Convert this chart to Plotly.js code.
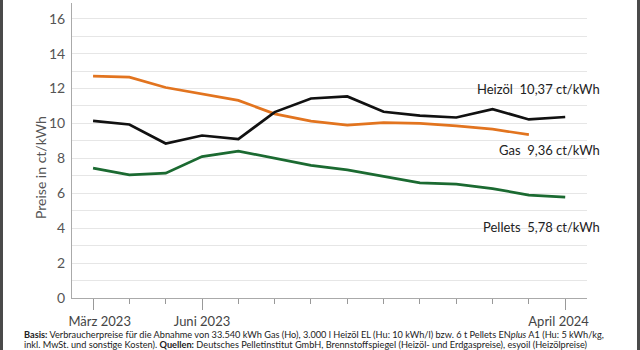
<!DOCTYPE html>
<html><head><meta charset="utf-8">
<script src="https://cdn.plot.ly/plotly-3.0.1.min.js"></script>
<style>
html,body{margin:0;padding:0;background:#fff;}
#wrap{position:relative;width:640px;height:350px;overflow:hidden;}
#chart{width:640px;height:350px;}
.bl{position:absolute;top:0;width:3px;height:350px;background:#4a4a4a;}
</style></head>
<body><div id="wrap"><div id="chart"></div><div class="bl" style="left:0"></div><div class="bl" style="left:637px"></div></div>
<script>
const months = ['2023-03','2023-04','2023-05','2023-06','2023-07','2023-08','2023-09','2023-10','2023-11','2023-12','2024-01','2024-02','2024-03','2024-04'];
const tickIdx = [0, 3, 13];
const tickLabels = ['\u00a0\u00a0\u00a0\u00a0März 2023', 'Juni 2023', 'April 2024\u00a0\u00a0\u00a0\u00a0'];
const heizoel = [10.15, 9.94, 8.85, 9.31, 9.1, 10.65, 11.43, 11.55, 10.67, 10.45, 10.34, 10.82, 10.23, 10.37];
const gas = [12.71, 12.65, 12.06, 11.68, 11.32, 10.55, 10.13, 9.9, 10.05, 10.0, 9.86, 9.67, 9.36];
const pellets = [7.44, 7.05, 7.15, 8.1, 8.41, 8.02, 7.6, 7.34, 6.98, 6.6, 6.52, 6.27, 5.89, 5.78];
const labelHeizoel = 'Heizöl\u00a0 10,37 ct/kWh';
const labelGas = 'Gas\u00a0 9,36 ct/kWh';
const labelPellets = 'Pellets\u00a0 5,78 ct/kWh';
const note1Parts = [['Basis:', true], [' Verbraucherpreise für die Abnahme von 33.540 kWh Gas (Ho), 3.000 l Heizöl EL (Hu: 10 kWh/l) bzw. 6 t Pellets ENplus A1 (Hu: 5 kWh/kg,', false]];
const note2Parts = [['inkl. MwSt. und sonstige Kosten). ', false], ['Quellen:', true], [' Deutsches Pelletinstitut GmbH, Brennstoffspiegel (Heizöl- und Erdgaspreise), esyoil (Heizölpreise)', false]];

const idx = a => a.map((_, i) => i);
const FONT = 'Lato, Roboto, sans-serif';
const NOTEFONT = 'Lato';

// pick a footnote size so the first line spans the same width as in the reference
function textWidth(parts, size) {
  const c = document.createElement('canvas').getContext('2d');
  let w = 0;
  parts.forEach(([t, b]) => { c.font = (b ? 'bold ' : '') + size + 'px ' + NOTEFONT; w += c.measureText(t).width; });
  return w;
}
const noteSize = Math.round(10 * 583 / textWidth(note1Parts, 10) * 10) / 10;
const toHtml = parts => parts.map(([t, b]) => b ? '<b>' + t + '</b>' : t.replace('ENplus', 'EN<i>plus</i>')).join('');

const traces = [
  {x: idx(gas), y: gas, mode: 'lines', line: {color: '#e2741f', width: 2.7}, hoverinfo: 'none', name: 'Gas'},
  {x: idx(pellets), y: pellets, mode: 'lines', line: {color: '#1b6a31', width: 2.7}, hoverinfo: 'none', name: 'Pellets'},
  {x: idx(heizoel), y: heizoel, mode: 'lines', line: {color: '#111111', width: 2.7}, hoverinfo: 'none', name: 'Heizöl'}
];

const layout = {
  width: 640, height: 350,
  margin: {l: 72, r: 53, t: 3, b: 52},
  paper_bgcolor: '#fff', plot_bgcolor: '#fff',
  showlegend: false,
  font: {family: FONT, color: '#333', size: 13},
  xaxis: {
    range: [-0.58, 13.6], showgrid: false, zeroline: false,
    showline: true, linecolor: '#aaa', linewidth: 1,
    tickmode: 'array', tickvals: tickIdx, ticktext: tickLabels,
    ticks: 'outside', ticklen: 11, tickcolor: '#999', tickwidth: 1,
    tickfont: {family: FONT, size: 13, color: '#444'},
    minor: {tickmode: 'linear', tick0: 0, dtick: 1, ticks: 'outside', ticklen: 5, tickcolor: '#999', showgrid: false}
  },
  yaxis: {
    range: [0, 16.9], dtick: 2, tick0: 0,
    showgrid: true, gridcolor: '#e6e6e6', gridwidth: 1,
    zeroline: false, showline: true, linecolor: '#aaa', linewidth: 1,
    ticks: '', tickfont: {family: FONT, size: 14, color: '#555'},
    minor: {dtick: 1, showgrid: true, gridcolor: '#e6e6e6', gridwidth: 1},
    ticklabelstandoff: 3
  },
  annotations: [
    {xref: 'paper', yref: 'paper', x: (602 - 72) / 515, y: (298 - 89) / 295, xanchor: 'right', yanchor: 'middle', text: labelHeizoel, showarrow: false, font: {family: FONT, size: 13, color: '#222'}},
    {xref: 'paper', yref: 'paper', x: (602 - 72) / 515, y: (298 - 150) / 295, xanchor: 'right', yanchor: 'middle', text: labelGas, showarrow: false, font: {family: FONT, size: 13, color: '#222'}},
    {xref: 'paper', yref: 'paper', x: (602 - 72) / 515, y: (298 - 227) / 295, xanchor: 'right', yanchor: 'middle', text: labelPellets, showarrow: false, font: {family: FONT, size: 13, color: '#222'}},
    {xref: 'paper', yref: 'paper', x: (40 - 72) / 515, y: (298 - 168) / 295, xanchor: 'center', yanchor: 'middle', textangle: -90, text: 'Preise in ct/kWh', showarrow: false, font: {family: FONT, size: 14, color: '#555'}},
    {xref: 'paper', yref: 'paper', x: (22 - 72) / 515, y: (298 - 334.5) / 295, xanchor: 'left', yanchor: 'middle', text: toHtml(note1Parts), showarrow: false, font: {family: NOTEFONT, size: noteSize, color: '#222'}},
    {xref: 'paper', yref: 'paper', x: (22 - 72) / 515, y: (298 - 344.5) / 295, xanchor: 'left', yanchor: 'middle', text: toHtml(note2Parts), showarrow: false, font: {family: NOTEFONT, size: noteSize, color: '#222'}}
  ]
};
Plotly.newPlot('chart', traces, layout, {staticPlot: true, displayModeBar: false});
</script></body></html>
